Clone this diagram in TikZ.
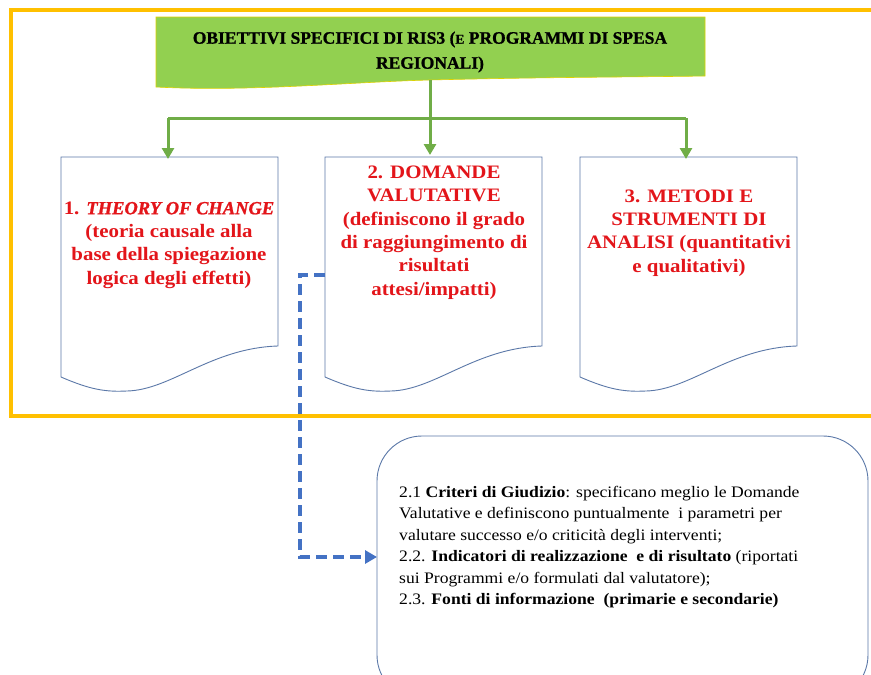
\documentclass[tikz,border=0pt]{standalone}
\usepackage{fontspec}
\setmainfont{Liberation Serif}[FakeStretch=1.1]
\newfontfamily\bannerfont{Liberation Serif Bold}[FakeBold=1]
\newfontfamily\theoryfont{Liberation Serif Bold Italic}[FakeBold=1.2]
\usetikzlibrary{arrows.meta}
\definecolor{frameyellow}{HTML}{FFC000}
\definecolor{bannergreen}{HTML}{92D050}
\definecolor{arrowgreen}{HTML}{70AD47}
\definecolor{docblue}{HTML}{5B78A8}
\definecolor{dashblue}{HTML}{4472C4}
\definecolor{txtred}{HTML}{E3151A}
\tikzset{
  docshape/.style={draw=docblue, line width=0.9pt, fill=white},
  greenarrow/.style={draw=arrowgreen, line width=3pt, -{Triangle[length=11pt,width=12pt]}},
  greenline/.style={draw=arrowgreen, line width=3pt},
  doctext/.style={text=txtred, font=\bfseries\fontsize{19}{23.3}\selectfont, align=center, inner sep=0pt},
  bannertext/.style={text=black, font=\bannerfont\fontsize{17.5}{25}\selectfont, align=center, inner sep=0pt},
  boxtext/.style={text=black, font=\fontsize{16}{21.5}\selectfont, align=left, inner sep=0pt, anchor=north west},
}
\begin{document}
\begin{tikzpicture}[x=1pt,y=-1pt]
\useasboundingbox (0,0) rectangle (871,675);
\fill[white] (0,0) rectangle (871,675);
% yellow frame
\draw[frameyellow, line width=4pt] (880,9.5) -- (11,9.5) -- (11,416) -- (880,416);
% banner
\path[fill=bannergreen, draw=yellow!70!olive, line width=0.6pt]
  (156,17) -- (705,17) -- (705,76)
  .. controls (650,77) and (550,77) .. (430,80)
  .. controls (350,82) and (250,92) .. (156,87) -- cycle;
\node[bannertext] (banner) at (430,52) {OBIETTIVI SPECIFICI DI RIS3 ({\fontsize{13.5}{13.5}\selectfont E} PROGRAMMI DI SPESA\\REGIONALI)};
\coordinate (trunk) at (430,80);
\coordinate (split) at (430,118);
\coordinate (splitL) at (168,118);
\coordinate (splitR) at (686,118);
% document boxes
\foreach \L/\nm in {61/d1,325/d2,580/d3}{
  \path[docshape] (\L,157) -- (\L+217,157) -- (\L+217,346)
    .. controls (\L+150,348) and (\L+110,390) .. (\L+66,391)
    .. controls (\L+45,392) and (\L+30,390) .. (\L,377) -- cycle;
  \coordinate (\nm left) at (\L,275);
}
\coordinate (d1in) at (168,157);
\coordinate (d3in) at (686,157);
\node[doctext] (t1) at (169,245) {1. {\theoryfont\fontsize{18.5}{23.3}\selectfont THEORY OF CHANGE}\\(teoria causale alla\\base della spiegazione\\logica degli effetti)};
\node[doctext] (t2) at (434,232.5) {2. DOMANDE\\VALUTATIVE\\(definiscono il grado\\di raggiungimento di\\risultati\\attesi/impatti)};
\node[doctext] (t3) at (689,233) {3. METODI E\\STRUMENTI DI\\ANALISI (quantitativi\\e qualitativi)};
% green connectors
\draw[greenline] (trunk) -- (split);
\draw[greenline] (splitL) -- (splitR);
\draw[greenarrow] (splitL) -- ([yshift=-2pt]d1in);
\draw[greenarrow] (split) -- (430,155);
\draw[greenarrow] (splitR) -- ([yshift=-2pt]d3in);
% bottom rounded box
\draw[draw=docblue, line width=0.9pt, rounded corners=45pt] (377,436) rectangle (868,700);
\coordinate (bleft) at (377,557);
\node[boxtext] (bt) at (399,486) {2.1 \textbf{Criteri di Giudizio}: specificano meglio le Domande\\
Valutative e definiscono puntualmente\ \ i parametri per\\
valutare successo e/o criticità degli interventi;\\
2.2. \textbf{Indicatori di realizzazione\ \ e di risultato} (riportati\\
sui Programmi e/o formulati dal valutatore);\\
2.3. \textbf{Fonti di informazione\ \ (primarie e secondarie)}};
% dashed connector
\draw[dashblue, line width=3.5pt, dash pattern=on 11pt off 6pt, -{Triangle[length=12pt,width=13pt]}]
  (d2left) -- (300,275) -- (300,557) -- (bleft);
\end{tikzpicture}
\end{document}
